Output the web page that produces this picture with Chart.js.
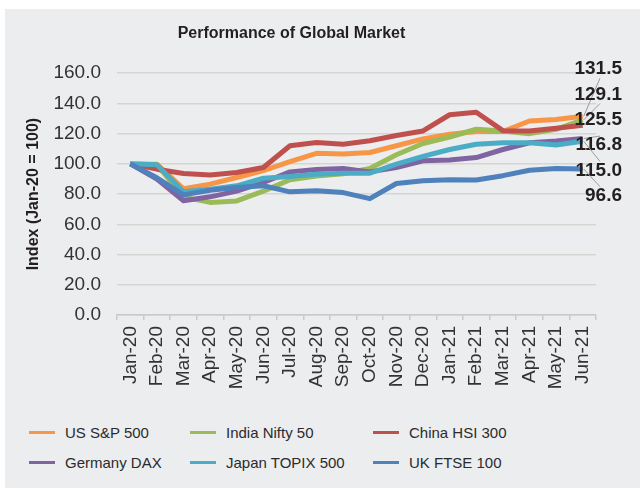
<!DOCTYPE html>
<html>
<head>
<meta charset="utf-8">
<script src="https://cdn.jsdelivr.net/npm/chart.js@4.4.1/dist/chart.umd.min.js"></script>
<style>
  html, body { margin: 0; padding: 0; background: #fff; }
  #panel { position: absolute; left: 5px; top: 9px; width: 635px; height: 479px; background: #ecedef; }
  #box { position: absolute; left: 0; top: 0; width: 635px; height: 392px; }
  #legend { position: absolute; left: 0; top: 408px; width: 635px; font-family: "Liberation Sans", Arial, sans-serif; font-size: 15px; color: #2b2b2b; }
  .item { position: absolute; height: 30px; display: flex; align-items: center; }
  .item span.sw { display: inline-block; width: 26px; height: 3px; margin-right: 10px; }
</style>
</head>
<body>
<div id="panel">
  <div id="box"><canvas id="mercados"></canvas></div>
  <div id="legend"></div>
</div>
<script>
// Datos (índice, Jan-20 = 100)
const meses = ['Jan-20', 'Feb-20', 'Mar-20', 'Apr-20', 'May-20', 'Jun-20', 'Jul-20', 'Aug-20', 'Sep-20',
  'Oct-20', 'Nov-20', 'Dec-20', 'Jan-21', 'Feb-21', 'Mar-21', 'Apr-21', 'May-21', 'Jun-21'];

const usSP500 = [100, 99.8, 83.5, 86.6, 91, 95.5, 101.5, 107, 106.5, 107.5, 112, 116.5, 119.6, 121.4, 121.4, 128.4, 129.3, 131.5];
const indiaNifty = [100, 99.5, 78, 74.5, 75.5, 82, 89.5, 92, 93.5, 97, 106, 113.5, 117.8, 122.9, 121.8, 120, 122.9, 129.1];
const chinaHSI = [100, 96.5, 93.6, 92.7, 94.3, 97.6, 112, 114.2, 113, 115.3, 118.8, 121.8, 132.5, 134.2, 122, 121.8, 123.5, 125.5];
const germanyDAX = [100, 90, 75.6, 78.2, 82, 87.7, 94.7, 96.3, 97, 94.7, 97.6, 102, 102.6, 104.2, 109.5, 114, 115.2, 116.8];
const japanTOPIX = [100, 99.4, 81.5, 83.3, 85.5, 90.5, 91.6, 93.2, 93.8, 93.8, 99.8, 105, 109.5, 113, 114, 114, 112.5, 115.0];
const ukFTSE = [100, 90.8, 79.5, 82.6, 84.4, 85.5, 81.5, 82.2, 81, 77, 87, 88.8, 89.5, 89.3, 92.2, 95.8, 96.9, 96.6];

const nombres = ['US S&P 500', 'India Nifty 50', 'China HSI 300', 'Germany DAX', 'Japan TOPIX 500', 'UK FTSE 100'];
const series = [usSP500, indiaNifty, chinaHSI, germanyDAX, japanTOPIX, ukFTSE];
const colores = ['#f79646', '#9bbb59', '#c0504d', '#8064a2', '#4bacc6', '#4f81bd'];

const yTicks = [0, 20, 40, 60, 80, 100, 120, 140, 160];

const data = {
  labels: meses,
  datasets: series.map((s, i) => ({
    label: nombres[i],
    data: s,
    borderColor: colores[i],
    backgroundColor: colores[i],
    borderWidth: 5,
    pointRadius: 0,
    tension: 0,
    borderJoinStyle: 'round',
    order: series.length - i  // la última serie queda encima, como en Excel
  }))
};

// Etiquetas del último valor, apiladas a la derecha
const etiquetasFinales = {
  id: 'etiquetasFinales',
  afterDatasetsDraw(chart) {
    const ctx = chart.ctx;
    const area = chart.chartArea;
    const puntos = chart.data.datasets.map((ds, i) => {
      const meta = chart.getDatasetMeta(i);
      const p = meta.data[meta.data.length - 1];
      return { v: ds.data[ds.data.length - 1], x: p.x, y: p.y };
    }).sort((a, b) => b.v - a.v);
    const xTexto = area.right + 26;
    ctx.save();
    puntos.forEach((p, k) => {
      const yTexto = area.top - 4 + k * 25.3;
      if (Math.abs(yTexto - p.y) > 6) {
        ctx.strokeStyle = '#9a9a9a';
        ctx.lineWidth = 1;
        ctx.beginPath();
        ctx.moveTo(p.x + 1, p.y);
        ctx.lineTo(xTexto - 22, yTexto + (p.y > yTexto ? 9 : -9));
        ctx.stroke();
      }
      ctx.font = 'bold 19px "Liberation Sans", Arial, sans-serif';
      ctx.fillStyle = '#231f20';
      ctx.textAlign = 'right';
      ctx.textBaseline = 'middle';
      ctx.fillText(p.v.toFixed(1), xTexto, yTexto);
    });
    ctx.restore();
  }
};

const $mercados = document.querySelector('#mercados');

const grafico = new Chart($mercados, {
  type: 'line',
  data,
  plugins: [etiquetasFinales],
  options: {
    responsive: true,
    maintainAspectRatio: false,
    animation: false,
    layout: { padding: { left: -18, right: 44, top: 0, bottom: 0 } },
    plugins: {
      legend: { display: false },
      tooltip: { enabled: false },
      title: {
        display: true,
        text: 'Performance of Global Market',
        color: '#231f20',
        font: { family: '"Liberation Sans", Arial, sans-serif', size: 16, weight: 'bold' },
        padding: { top: 15, bottom: 30 }
      }
    },
    scales: {
      y: {
        min: yTicks[0],
        max: yTicks[yTicks.length - 1],
        afterBuildTicks: s => { s.ticks = yTicks.map(v => ({ value: v })); },
        afterFit: s => { s.width = 130; },
        border: { display: false },
        grid: { color: '#d5d6d1', lineWidth: 1.5, drawTicks: false },
        ticks: {
          padding: 16,
          color: '#333',
          font: { family: '"Liberation Sans", Arial, sans-serif', size: 19 },
          callback: v => Number(v).toFixed(1)
        },
        title: {
          display: true,
          text: 'Index (Jan-20 = 100)',
          color: '#231f20',
          font: { family: '"Liberation Sans", Arial, sans-serif', size: 16, weight: 'bold' },
          padding: { top: 37, bottom: 0 }
        }
      },
      x: {
        offset: true,
        afterFit: s => { s.height = 86; },
        border: { color: '#c9cac6', width: 1.5 },
        grid: { offset: true, drawOnChartArea: false, drawTicks: true, tickLength: 5, color: '#c9cac6', lineWidth: 1.5 },
        ticks: {
          minRotation: 90,
          maxRotation: 90,
          autoSkip: false,
          padding: 6,
          color: '#333',
          font: { family: '"Liberation Sans", Arial, sans-serif', size: 19 }
        }
      }
    }
  }
});

// Leyenda en HTML: 2 filas x 3 columnas
const $legend = document.querySelector('#legend');
const columnas = [24, 185, 368];
grafico.data.datasets.forEach((ds, i) => {
  const div = document.createElement('div');
  div.className = 'item';
  div.style.left = columnas[i % 3] + 'px';
  div.style.top = (Math.floor(i / 3) * 30) + 'px';
  div.innerHTML = '<span class="sw" style="background:' + ds.borderColor + '"></span>' + ds.label;
  $legend.appendChild(div);
});
</script>
</body>
</html>
